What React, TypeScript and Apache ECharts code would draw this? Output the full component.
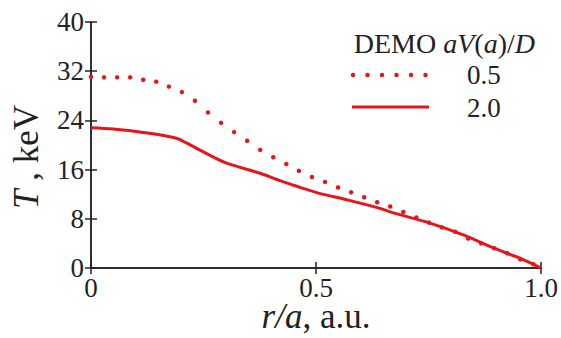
import React, { useEffect, useRef } from "react";
import * as echarts from "echarts";

const RED = "#e8141c";
const INK = "#222222";
const FONT = "Liberation Serif";

const xTicks = [0, 0.5, 1.0];
const xTickLabels = ["0", "0.5", "1.0"];
const yTicks = [0, 8, 16, 24, 32, 40];

// aV(a)/D = 0.5 (dotted)
const dottedR = [0.0, 0.029, 0.058, 0.087, 0.116, 0.145, 0.173, 0.202, 0.231, 0.26, 0.289, 0.318, 0.347, 0.376, 0.405, 0.434, 0.462, 0.491, 0.52, 0.549, 0.578, 0.607, 0.636, 0.665, 0.694, 0.723, 0.751, 0.78, 0.809, 0.838, 0.867, 0.896, 0.925, 0.954, 0.983];
const dottedT = [31.1, 31.0, 31.0, 31.0, 30.6, 30.3, 29.5, 28.6, 27.2, 25.3, 23.6, 22.1, 20.7, 19.2, 18.0, 16.9, 15.8, 14.8, 14.0, 13.1, 12.3, 11.5, 10.7, 10.0, 9.1, 8.2, 7.4, 6.6, 5.9, 4.8, 4.0, 3.2, 2.4, 1.4, 0.6];

// aV(a)/D = 2.0 (solid)
const solidR = [0.0, 0.05, 0.1, 0.15, 0.19, 0.213, 0.257, 0.3, 0.376, 0.42, 0.5, 0.568, 0.642, 0.67, 0.753, 0.827, 0.9, 0.953, 1.0];
const solidT = [22.8, 22.6, 22.2, 21.7, 21.1, 20.3, 18.6, 17.1, 15.4, 14.2, 12.3, 11.1, 9.7, 9.0, 7.3, 5.4, 3.1, 1.6, 0.0];

const legendLabels = ["0.5", "2.0"];

export default function App() {
  const ref = useRef<HTMLDivElement>(null);
  useEffect(() => {
    document.body.style.margin = "0";
    if (!ref.current) return;
    const chart = echarts.init(ref.current, null, { renderer: "svg" });
    const axisLine = { show: true, lineStyle: { color: INK, width: 1.5 } };
    const tick = { show: true, inside: true, length: 6, lineStyle: { color: INK, width: 1.5 } };
    chart.setOption({
      animation: false,
      backgroundColor: "#ffffff",
      grid: { left: 91, right: 20, top: 22, bottom: 70, containLabel: false, outerBoundsMode: "none" },
      xAxis: [
        {
          type: "value",
          min: 0,
          max: 1,
          interval: 0.5,
          axisLine,
          axisTick: tick,
          splitLine: { show: false },
          axisLabel: {
            margin: 9,
            color: INK,
            fontFamily: FONT,
            fontSize: 27,
            lineHeight: 22,
            formatter: (v: number) => xTickLabels[xTicks.indexOf(v)] ?? String(v),
          },
          name: "{i|r/a}, a.u.",
          nameLocation: "middle",
          nameGap: 32,
          nameMoveOverlap: false,
          nameTextStyle: {
            color: INK,
            fontFamily: FONT,
            fontSize: 35,
            lineHeight: 32,
            rich: { i: { fontStyle: "italic", fontFamily: FONT, fontSize: 35, lineHeight: 32, color: INK } },
          },
        },
        {
          type: "value",
          position: "top",
          min: 0,
          max: 1,
          interval: 0.5,
          axisLine,
          axisTick: tick,
          axisLabel: { show: false },
          splitLine: { show: false },
        },
      ],
      yAxis: [
        {
          type: "value",
          min: yTicks[0],
          max: yTicks[yTicks.length - 1],
          interval: 8,
          axisLine,
          axisTick: tick,
          splitLine: { show: false },
          axisLabel: { margin: 7, color: INK, fontFamily: FONT, fontSize: 27 },
          name: "{i|T} , keV{s|}",
          nameLocation: "middle",
          nameGap: 47,
          nameMoveOverlap: false,
          nameTextStyle: {
            color: INK,
            fontFamily: FONT,
            fontSize: 35,
            rich: {
              i: { fontStyle: "italic", fontFamily: FONT, fontSize: 35, color: INK },
              s: { width: 24, fontSize: 35 },
            },
          },
        },
        {
          type: "value",
          position: "right",
          min: 0,
          max: 40,
          interval: 8,
          axisLine,
          axisTick: tick,
          axisLabel: { show: false },
          splitLine: { show: false },
        },
      ],
      series: [
        {
          name: legendLabels[0],
          type: "line",
          data: dottedR.map((r, i) => [r, dottedT[i]]),
          showSymbol: true,
          symbol: "circle",
          symbolSize: 4.5,
          itemStyle: { color: RED },
          lineStyle: { width: 0, opacity: 0 },
          z: 3,
        },
        {
          name: legendLabels[1],
          type: "line",
          data: solidR.map((r, i) => [r, solidT[i]]),
          showSymbol: false,
          smooth: 0.3,
          lineStyle: { color: RED, width: 3 },
          itemStyle: { color: RED },
          z: 2,
        },
      ],
      graphic: [
        {
          type: "text",
          x: 535,
          y: 43,
          style: {
            text: "DEMO {i|aV}({i|a})/{i|D}",
            fill: INK,
            fontFamily: FONT,
            fontSize: 28,
            align: "right",
            verticalAlign: "middle",
            rich: {
              i: { fontStyle: "italic", fontFamily: FONT, fontSize: 28, fill: INK },
            },
          },
        },
        {
          type: "line",
          shape: { x1: 353, y1: 75, x2: 426, y2: 75 },
          style: { stroke: RED, lineWidth: 4.5, lineDash: [0, 14.5], lineCap: "round" },
        },
        {
          type: "line",
          shape: { x1: 352, y1: 107, x2: 429, y2: 107 },
          style: { stroke: RED, lineWidth: 3 },
        },
        {
          type: "text",
          x: 467,
          y: 75,
          style: { text: legendLabels[0], fill: INK, fontFamily: FONT, fontSize: 27, verticalAlign: "middle" },
        },
        {
          type: "text",
          x: 467,
          y: 108,
          style: { text: legendLabels[1], fill: INK, fontFamily: FONT, fontSize: 27, verticalAlign: "middle" },
        },
      ],
    });
    return () => chart.dispose();
  }, []);
  return <div ref={ref} style={{ width: 561, height: 338 }} />;
}
